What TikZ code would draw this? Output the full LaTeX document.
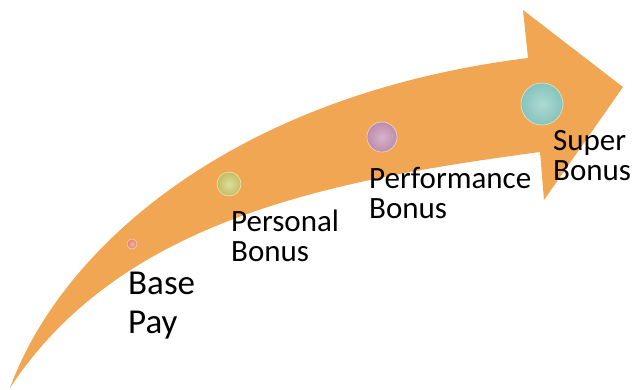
\documentclass[tikz,border=0pt]{standalone}
\usepackage{fontspec}
\setmainfont{Carlito}
\usetikzlibrary{positioning}

\definecolor{arroworange}{RGB}{240,166,82}
\definecolor{pearlred}{RGB}{232,122,98}
\definecolor{pearlyellow}{RGB}{196,190,92}
\definecolor{pearlpink}{RGB}{190,140,172}
\definecolor{pearlteal}{RGB}{132,196,188}

\begin{document}
\begin{tikzpicture}[x=1pt,y=-1pt]
    \tikzstyle{pearl}=[circle, inner sep=0pt, draw=white, draw opacity=0.5, line width=0.8pt]
    \tikzstyle{caption}=[anchor=north west, align=left, inner sep=0pt, text=black, font=\fontsize{31}{30}\selectfont]

\useasboundingbox (0,0) rectangle (635,389);

\fill[arroworange] (10,388) .. controls (60,250) and (230,95) .. (528,58)
    -- (523,10) -- (623,87) -- (544,200) -- (540,152)
    .. controls (330,180) and (120,220) .. (10,388) -- cycle;

\node[pearl, minimum size=10pt, inner color=pearlred!55!white, outer color=pearlred]           (base) at (132,244) {};
\node[pearl, minimum size=24pt, inner color=pearlyellow!55!white, outer color=pearlyellow]     (personal) at (229,184) {};
\node[pearl, minimum size=30pt, inner color=pearlpink!65!white, outer color=pearlpink]         (performance) at (382,137) {};
\node[pearl, minimum size=42pt, inner color=pearlteal!65!white, outer color=pearlteal]         (super) at (542,104) {};

\node[caption, font=\fontsize{35}{39}\selectfont] (basetxt) at (128,272)   {Base\\Pay};
\node[caption]         (personaltxt) at (231,210)     {Personal\\Bonus};
\node[caption]         (performancetxt) at (369,167)  {Performance\\Bonus};
\node[caption]         (supertxt) at (553,130)        {Super\\Bonus};
\end{tikzpicture}
\end{document}
